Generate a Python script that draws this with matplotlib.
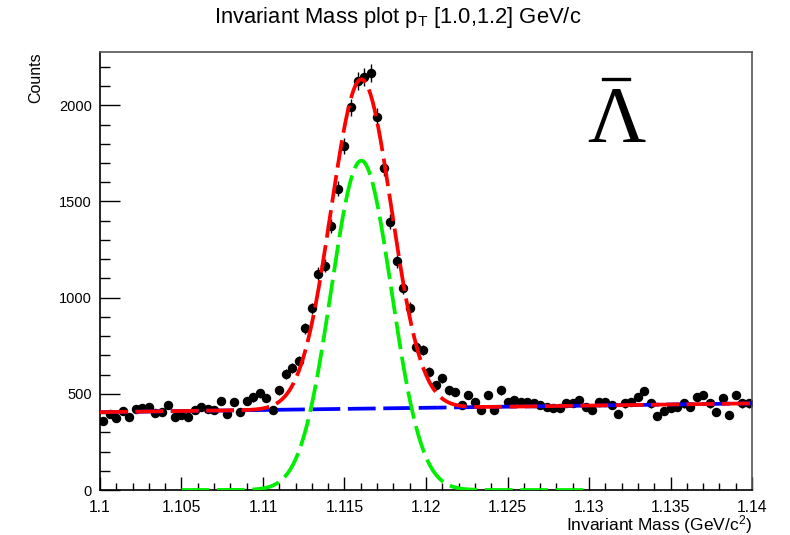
import numpy as np
import matplotlib
matplotlib.use("Agg")
import matplotlib.pyplot as plt
from matplotlib.lines import Line2D
from matplotlib.ticker import MultipleLocator, FixedLocator

plt.rcParams['font.family'] = ['Liberation Sans', 'DejaVu Sans']

# ---- data ----
bin_lo, bin_hi, n_bins = 1.1, 1.14, 100
counts = [360, 395, 373, 410, 378, 420, 425, 431, 400, 405,
          441, 378, 389, 380, 415, 431, 420, 415, 462, 394,
          456, 405, 462, 482, 503, 477, 415, 519, 602, 633,
          670, 840, 944, 1125, 1167, 1374, 1566, 1789, 1990, 2125,
          2145, 2168, 1940, 1672, 1395, 1188, 1050, 945, 745, 728,
          614, 545, 581, 519, 510, 441, 493, 458, 415, 493,
          415, 519, 458, 467, 458, 456, 451, 441, 432, 425,
          425, 451, 451, 467, 432, 415, 458, 458, 441, 393,
          450, 458, 484, 514, 450, 385, 410, 424, 432, 450,
          432, 484, 493, 450, 403, 476, 389, 493, 450, 450]

# fit parameters (gaussian signal + linear background)
sig_amp, sig_mean, sig_sigma = 1712.0, 1.11603, 0.00185
bg_p0, bg_p1 = 404.5, 1146.0        # bg = p0 + p1*(m - 1.1)
sig_range = (1.105, 1.13)

x_ticks = [1.1, 1.105, 1.11, 1.115, 1.12, 1.125, 1.13, 1.135, 1.14]
x_tick_labels = ["1.1", "1.105", "1.11", "1.115", "1.12", "1.125", "1.13", "1.135", "1.14"]
y_ticks = [0, 500, 1000, 1500, 2000]

# ---- derived ----
edges = np.linspace(bin_lo, bin_hi, n_bins + 1)
centers = 0.5 * (edges[:-1] + edges[1:])
counts = np.array(counts, dtype=float)
errs = np.sqrt(counts)

def bg(m):
    return bg_p0 + bg_p1 * (m - 1.1)

def sig(m):
    return sig_amp * np.exp(-0.5 * ((m - sig_mean) / sig_sigma) ** 2)

m_full = np.linspace(bin_lo, bin_hi, 800)
m_sig = np.linspace(sig_range[0], sig_range[1], 500)

fig = plt.figure(figsize=(7.9, 5.35), dpi=100)
ax = fig.add_axes([100/790, 45/535, 652/790, 438/535])

ax.errorbar(centers, counts, yerr=errs, fmt='o', color='black', ms=5.8,
            elinewidth=1.0, capsize=0, zorder=2)

lw = 2.7
dash = (0, (20/lw, 5.5/lw))
ax.plot(m_full, bg(m_full), color='#0000ff', lw=lw, ls=dash, zorder=3)
ax.plot(m_sig, sig(m_sig), color='#00ee00', lw=lw, ls=dash, zorder=3)
ax.plot(m_full, sig(m_full) + bg(m_full), color='#ff0000', lw=lw, ls=dash, zorder=4)

ax.set_xlim(bin_lo, bin_hi)
ax.set_ylim(0, 2277)

ax.xaxis.set_major_locator(FixedLocator(x_ticks))
ax.set_xticklabels(x_tick_labels)
ax.xaxis.set_minor_locator(MultipleLocator(0.001))
ax.yaxis.set_major_locator(FixedLocator(y_ticks))
ax.yaxis.set_minor_locator(MultipleLocator(100))

ax.tick_params(axis='x', which='major', direction='in', length=9.4, width=1.0,
               labelsize=11.3, pad=7, top=False)
ax.tick_params(axis='x', which='minor', direction='in', length=4.7, width=1.0, top=False)
ax.tick_params(axis='y', which='major', direction='in', length=14.4, width=1.0,
               labelsize=10.5, pad=6, right=False)
ax.tick_params(axis='y', which='minor', direction='in', length=7.2, width=1.0, right=False)

for s in ['left', 'bottom']:
    ax.spines[s].set_color('black')
    ax.spines[s].set_linewidth(1.2)
for s in ['top', 'right']:
    ax.spines[s].set_color('#555555')
    ax.spines[s].set_linewidth(1.2)

ax.set_xlabel(r'Invariant Mass (GeV/c$\mathregular{^2}$)', fontsize=12.5, loc='right', labelpad=-1)
ax.set_ylabel('Counts', fontsize=11.5, loc='top', labelpad=11)

fig.text(0.503, 1 - 18/535, r'Invariant Mass plot p$\mathregular{_T}$ [1.0,1.2] GeV/c',
         ha='center', va='center', fontsize=15.8)

fig.text(616/790, 1 - 123/535, 'Λ', family='Liberation Serif', fontsize=58,
         ha='center', va='center')
fig.add_artist(Line2D([603/790, 629/790], [1 - 79/535, 1 - 79/535],
                      lw=2.4, color='black', transform=fig.transFigure))

fig.savefig('out.png', dpi=100)
